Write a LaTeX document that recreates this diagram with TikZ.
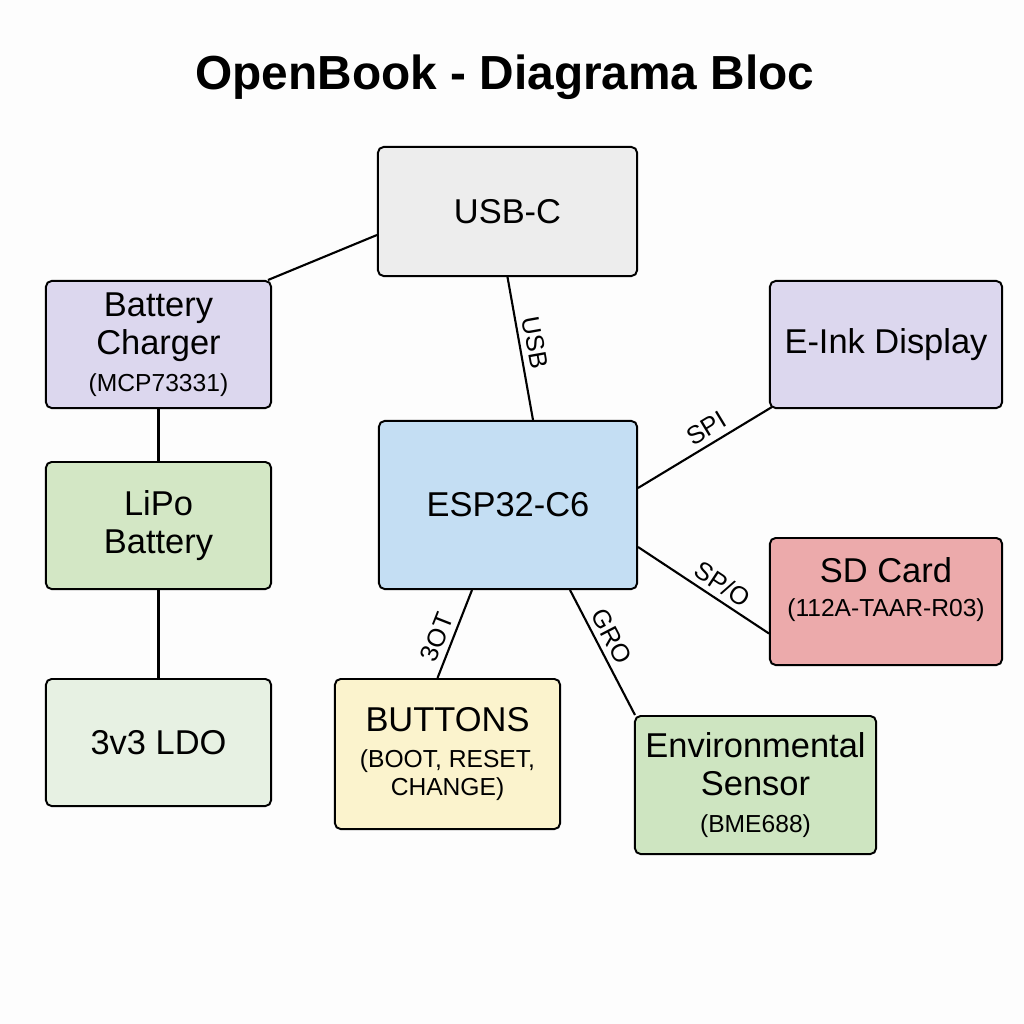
\documentclass[tikz,border=0pt]{standalone}
\usepackage{fontspec}
\setmainfont{Liberation Sans}
\usetikzlibrary{calc,positioning}
\definecolor{paper}{HTML}{FDFDFD}
\definecolor{usbgray}{HTML}{EDEDED}
\definecolor{lavender}{HTML}{DCD7EE}
\definecolor{lipogreen}{HTML}{D3E7C5}
\definecolor{ldogreen}{HTML}{E7F1E3}
\definecolor{espblue}{HTML}{C4DEF3}
\definecolor{sdpink}{HTML}{ECAAAB}
\definecolor{btnyellow}{HTML}{FBF3CD}
\definecolor{envgreen}{HTML}{CEE5C1}
\tikzset{
    block/.style={
    rectangle,rounded corners=4pt,draw=black,line width=1.4pt,align=center,inner sep=2pt,font=\fontsize{24.5}{27}\selectfont
    },
    link/.style={
    draw=black,line width=1.5pt
    },
    bus/.style={
    sloped,above,inner sep=4pt,font=\fontsize{18}{20}\selectfont
    },
}
\newcommand{\partno}[1]{{\fontsize{17.5}{20}\selectfont #1}}

\begin{document}
\begin{tikzpicture}[x=0.025cm, y=-0.025cm]
   \fill[paper] (0,0) rectangle (1024,1024);
   \useasboundingbox (0,0) rectangle (1024,1024);

   \node[font=\bfseries\fontsize{34}{40}\selectfont] (title) at (505,77) {OpenBook - Diagrama Bloc};

   \node[block,fill=usbgray,minimum width=6.475cm,minimum height=3.225cm] (usb) at (507.5,211.5) {USB-C};
   \node[block,fill=lavender,minimum width=5.625cm,minimum height=3.175cm] (chg) at (158.5,344.5) {Battery\\Charger\\[-1pt]\partno{(MCP73331)}};
   \node[block,fill=lipogreen,minimum width=5.625cm,minimum height=3.175cm] (lipo) at (158.5,525.5) {LiPo\\Battery};
   \node[block,fill=ldogreen,minimum width=5.625cm,minimum height=3.175cm] (ldo) at (158.5,742.5) {3v3 LDO};
   \node[block,fill=espblue,minimum width=6.45cm,minimum height=4.2cm] (esp) at (508,505) {ESP32-C6};
   \node[block,fill=lavender,minimum width=5.8cm,minimum height=3.175cm] (eink) at (886,344.5) {E-Ink Display};
   \node[block,fill=sdpink,minimum width=5.8cm,minimum height=3.175cm] (sd) at (886,601.5) {SD Card\\[-3pt]\partno{(112A-TAAR-R03)}\\[-15pt]\strut};
   \node[block,fill=btnyellow,minimum width=5.625cm,minimum height=3.75cm] (btn) at (447.5,754) {BUTTONS\\[-2pt]\partno{(BOOT, RESET,}\\[-7pt]\partno{CHANGE)}};
   \node[block,fill=envgreen,minimum width=6.025cm,minimum height=3.45cm] (env) at (755.5,785) {Environmental\\Sensor\\[-1pt]\partno{(BME688)}};

  \path[link]
    ($(usb.west)+(0,23.5)$) edge ($(chg.north east)+(-4,0)$)
    (usb.south) edge node[bus,pos=.48] {USB} ($(esp.north)+(25,0)$)
    ($(esp.east)+(0,-17)$) edge node[bus,pos=.57] {SPI} ($(eink.south west)+(3,-2)$)
    ($(esp.east)+(0,42)$) edge node[bus,pos=.58] {SP/O} ($(sd.west)+(0,32)$)
    ($(esp.south)+(-36,0)$) edge node[bus,pos=.6] {3OT} ($(btn.north)+(-10,0)$)
    ($(esp.south)+(62,0)$) edge node[bus,pos=.43] {GRO} ($(env.north west)+(1,0)$)
    (chg) edge (lipo)
    (lipo) edge (ldo);
\end{tikzpicture}
\end{document}
